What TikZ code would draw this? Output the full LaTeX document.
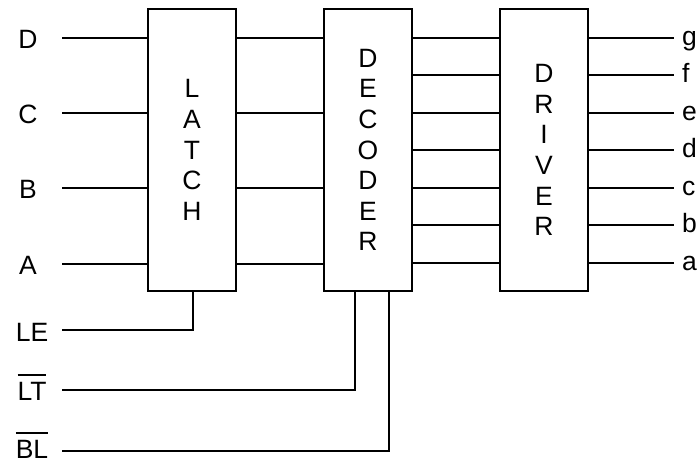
\documentclass[tikz,border=0pt]{standalone}
\usepackage{fontspec}
\setmainfont{Liberation Sans}
\newcommand\myovl[1]{\vbox{\hrule height 1.8pt\kern 6pt\hbox{#1}}}
\begin{document}
\begin{tikzpicture}[x=1pt,y=-1pt,
  box/.style={draw, line width=2.6pt, minimum width=88pt, minimum height=282pt,
    inner sep=0pt, align=center, font=\fontsize{26.5}{30.6}\selectfont},
  wire/.style={line width=2.5pt},
  lbl/.style={font=\fontsize{26.5}{30}\selectfont, inner sep=0pt}]
\useasboundingbox (0,0) rectangle (700,463);
% blocks
\node[box] (latch) at (192,150) {L\\A\\T\\C\\H};
\node[box] (dec) at (368,150) {D\\E\\C\\O\\D\\E\\R};
\node[box] (drv) at (544,150) {D\\R\\I\\V\\E\\R};
% input labels
\node[lbl, anchor=base] (lD) at (28,48) {D};
\node[lbl, anchor=base] (lC) at (28,123) {C};
\node[lbl, anchor=base] (lB) at (28,198) {B};
\node[lbl, anchor=base] (lA) at (28,274) {A};
\node[lbl, anchor=base] (lLE) at (32,341) {LE};
\node[lbl, anchor=base] (lLT) at (32,400) {\myovl{LT}};
\node[lbl, anchor=base] (lBL) at (32,458) {\myovl{BL}};
% input wire ends
\coordinate (sD) at (62,38);
\coordinate (sC) at (62,113);
\coordinate (sB) at (62,188);
\coordinate (sA) at (62,264);
\coordinate (sLE) at (62,330);
\coordinate (sLT) at (62,390);
\coordinate (sBL) at (62,451);
\foreach \s in {sD,sC,sB,sA}{
  \draw[wire] (\s) -- (latch.west |- \s);
  \draw[wire] (latch.east |- \s) -- (dec.west |- \s);
}
\draw[wire] (sLE) -| ([xshift=1pt]latch.south);
\draw[wire] (sLT) -| ([xshift=-13pt]dec.south);
\draw[wire] (sBL) -| ([xshift=21pt]dec.south);
% decoder to driver, driver outputs
\foreach \y/\t [count=\i] in {38/g,75/f,113/e,150/d,188/c,225/b,263/a}{
  \coordinate (o\i) at (674,\y);
  \draw[wire] (dec.east |- o\i) -- (drv.west |- o\i);
  \draw[wire] (drv.east |- o\i) -- (o\i);
  \node[lbl, anchor=base west] (l\t) at (682,\y+7) {\t};
}
\end{tikzpicture}
\end{document}
